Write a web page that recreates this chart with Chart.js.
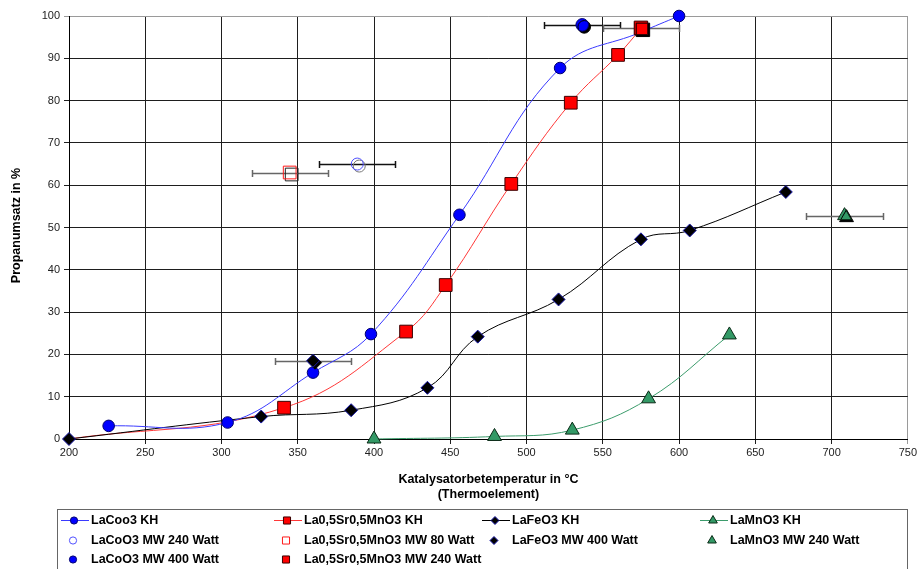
<!DOCTYPE html>
<html>
<head>
<meta charset="utf-8">
<script src="https://cdn.jsdelivr.net/npm/chart.js@4.4.1/dist/chart.umd.min.js"></script>
<style>
  html, body { margin: 0; padding: 0; background: #ffffff; }
  #wrap { width: 919px; height: 569px; position: relative; }
</style>
</head>
<body>
<div id="wrap"><canvas id="c" width="919" height="569"></canvas></div>
<script>
// Catalyst temperature (°C) and propane conversion (%) per sample

// Conventional heating (KH) series
const laCoKhTemp = [226, 304, 360, 398, 456, 522, 575, 600];
const laCoKhConv = [3.1, 3.9, 15.7, 24.8, 53.0, 87.7, 96.2, 100];

const laSrMnKhTemp = [200, 341, 421, 447, 490, 529, 560, 575];
const laSrMnKhConv = [0, 7.4, 25.4, 36.4, 60.3, 79.5, 90.8, 97.0];

const laFeKhTemp = [200, 326, 385, 435, 468, 521, 575, 607, 670];
const laFeKhConv = [0, 5.3, 6.8, 12.1, 24.2, 33.0, 47.2, 49.3, 58.4];

const laMnKhTemp = [400, 479, 530, 580, 633];
const laMnKhConv = [0, 0.6, 2.1, 9.5, 24.6];

// Microwave (MW) single measurements with temperature uncertainty (± °C)
const laCoMw240Temp = [389];   const laCoMw240Conv = [65.0];  const laCoMw240Err = [25];
const laCoMw400Temp = [536.5]; const laCoMw400Conv = [97.9];  const laCoMw400Err = [25];
const laSrMnMw80Temp = [344.7]; const laSrMnMw80Conv = [63.0]; const laSrMnMw80Err = [25];
const laSrMnMw240Temp = [575]; const laSrMnMw240Conv = [97.2]; const laSrMnMw240Err = [25];
const laFeMw400Temp = [360];   const laFeMw400Conv = [18.5];  const laFeMw400Err = [25];
const laMnMw240Temp = [708.5]; const laMnMw240Conv = [52.8];  const laMnMw240Err = [25];

// Axis ticks
const xTicks = [200, 250, 300, 350, 400, 450, 500, 550, 600, 650, 700, 750];
const yTicks = [0, 10, 20, 30, 40, 50, 60, 70, 80, 90, 100];

const xTitle = ['Katalysatorbetemperatur in °C', '(Thermoelement)'];
const yTitle = 'Propanumsatz in %';

function pts(t, u) { return t.map((x, i) => ({ x: x, y: u[i] })); }

const CLEAR = 'rgba(0,0,0,0)';

// Datasets listed in legend order (row by row, four columns)
const datasets = [
  { label: 'LaCoo3 KH', data: pts(laCoKhTemp, laCoKhConv), showLine: true, tension: 0.4,
    borderColor: '#3a3aff', borderWidth: 1, pointStyle: 'circle',
    pointRadius: laCoKhTemp.map((t, i) => i === 6 ? 0 : 5.8),
    pointBackgroundColor: '#0000ff', pointBorderColor: '#00006e', pointBorderWidth: 1,
    order: 2, legendRadius: 3.6 },
  { label: 'La0,5Sr0,5MnO3 KH', data: pts(laSrMnKhTemp, laSrMnKhConv), showLine: true, tension: 0.4,
    borderColor: '#ff3838', borderWidth: 1, pointStyle: 'rect',
    pointRadius: laSrMnKhTemp.map((t, i) => i === 0 ? 0 : 9),
    pointBackgroundColor: '#ff0000', pointBorderColor: '#3a0000', pointBorderWidth: 1,
    order: 4, legendRadius: 5 },
  { label: 'LaFeO3 KH', data: pts(laFeKhTemp, laFeKhConv), showLine: true, tension: 0.4,
    borderColor: '#000000', borderWidth: 1, pointStyle: 'rectRot', pointRadius: 6.5,
    pointBackgroundColor: '#000000', pointBorderColor: '#1a1aa8', pointBorderWidth: 1,
    order: 3, legendRadius: 4 },
  { label: 'LaMnO3 KH', data: pts(laMnKhTemp, laMnKhConv), showLine: true, tension: 0.4,
    borderColor: '#3c9c6c', borderWidth: 1, pointStyle: 'triangle', pointRadius: 8,
    pointBackgroundColor: '#339966', pointBorderColor: '#0b2a17', pointBorderWidth: 1,
    order: 5, legendRadius: 5 },

  { label: 'LaCoO3 MW 240 Watt', data: pts(laCoMw240Temp, laCoMw240Conv), showLine: false,
    pointStyle: 'circle', pointRadius: 6, pointBackgroundColor: CLEAR, pointBorderColor: '#5050ff',
    pointBorderWidth: 1, order: 1, legendRadius: 3.6,
    errX: laCoMw240Err, errColor: '#111111', shadowColor: '#777777' },
  { label: 'La0,5Sr0,5MnO3 MW 80 Watt', data: pts(laSrMnMw80Temp, laSrMnMw80Conv), showLine: false,
    pointStyle: 'rect', pointRadius: 9, pointBackgroundColor: CLEAR, pointBorderColor: '#ff1a1a',
    pointBorderWidth: 1, order: 1, legendRadius: 5,
    errX: laSrMnMw80Err, errColor: '#666666', shadowColor: '#222222' },
  { label: 'LaFeO3 MW 400 Watt', data: pts(laFeMw400Temp, laFeMw400Conv), showLine: false,
    pointStyle: 'rectRot', pointRadius: 6.5, pointBackgroundColor: '#000000', pointBorderColor: '#1a1aa8',
    pointBorderWidth: 1, order: 1, legendRadius: 4,
    errX: laFeMw400Err, errColor: '#666666', shadowColor: '#000000' },
  { label: 'LaMnO3 MW 240 Watt', data: pts(laMnMw240Temp, laMnMw240Conv), showLine: false,
    pointStyle: 'triangle', pointRadius: 8, pointBackgroundColor: '#339966', pointBorderColor: '#0b2a17',
    pointBorderWidth: 1, order: 1, legendRadius: 5,
    errX: laMnMw240Err, errColor: '#666666', shadowColor: '#000000' },

  { label: 'LaCoO3 MW 400 Watt', data: pts(laCoMw400Temp, laCoMw400Conv), showLine: false,
    pointStyle: 'circle', pointRadius: 6.3, pointBackgroundColor: '#0000ff', pointBorderColor: '#00006e',
    pointBorderWidth: 1, order: 1, legendRadius: 3.6,
    errX: laCoMw400Err, errColor: '#111111', shadowColor: '#000000' },
  { label: 'La0,5Sr0,5MnO3 MW 240 Watt', data: pts(laSrMnMw240Temp, laSrMnMw240Conv), showLine: false,
    pointStyle: 'rect', pointRadius: 9.5, pointBackgroundColor: '#ff0000', pointBorderColor: '#3a0000',
    pointBorderWidth: 1, order: 0, legendRadius: 5,
    errX: laSrMnMw240Err, errColor: '#666666', shadowColor: '#000000' }
];

// Horizontal temperature error bars, drawn beneath the markers
const errorBars = {
  id: 'errorBars',
  beforeDatasetsDraw(chart) {
    const ctx = chart.ctx, xs = chart.scales.x, ys = chart.scales.y;
    chart.data.datasets.forEach(ds => {
      if (!ds.errX) return;
      ds.data.forEach((p, i) => {
        const e = ds.errX[i];
        const x0 = Math.round(xs.getPixelForValue(p.x - e)) + 0.5;
        const x1 = Math.round(xs.getPixelForValue(p.x + e)) + 0.5;
        const y = Math.round(ys.getPixelForValue(p.y)) + 0.5;
        ctx.save();
        ctx.strokeStyle = ds.errColor;
        ctx.lineWidth = 1.5;
        ctx.beginPath();
        ctx.moveTo(x0, y); ctx.lineTo(x1, y);
        ctx.moveTo(x0, y - 3.5); ctx.lineTo(x0, y + 3.5);
        ctx.moveTo(x1, y - 3.5); ctx.lineTo(x1, y + 3.5);
        ctx.stroke();
        ctx.restore();
      });
    });
  }
};

// Offset drop shadow on the microwave markers
const markerShadow = {
  id: 'markerShadow',
  beforeDatasetDraw(chart, args) {
    const ds = chart.data.datasets[args.index];
    if (!ds.shadowColor) return;
    const ctx = chart.ctx;
    ctx.save();
    ctx.shadowColor = ds.shadowColor;
    ctx.shadowOffsetX = 2;
    ctx.shadowOffsetY = 2;
    ctx.shadowBlur = 0;
  },
  afterDatasetDraw(chart, args) {
    const ds = chart.data.datasets[args.index];
    if (ds.shadowColor) chart.ctx.restore();
  }
};

// Axis titles
const axisTitles = {
  id: 'axisTitles',
  afterDraw(chart) {
    const ctx = chart.ctx, a = chart.chartArea;
    ctx.save();
    ctx.fillStyle = '#000';
    ctx.font = 'bold 12.5px "Liberation Sans", Arial, sans-serif';
    ctx.textAlign = 'center';
    ctx.textBaseline = 'middle';
    const cx = (a.left + a.right) / 2;
    xTitle.forEach((t, i) => ctx.fillText(t, cx, 480 + i * 15));
    ctx.translate(17, (a.top + a.bottom) / 2 - 2);
    ctx.rotate(-Math.PI / 2);
    ctx.fillText(yTitle, 0, 0);
    ctx.restore();
  }
};

// Boxed legend in a four-column grid
const gridLegend = {
  id: 'gridLegend',
  afterDraw(chart) {
    const ctx = chart.ctx;
    const colX = [61, 274, 482, 700];
    const rowY = [520, 540, 559];
    ctx.save();
    ctx.strokeStyle = '#666666';
    ctx.lineWidth = 1;
    ctx.strokeRect(57.5, 509.5, 850, 80);
    ctx.font = 'bold 12.5px "Liberation Sans", Arial, sans-serif';
    ctx.textBaseline = 'middle';
    ctx.textAlign = 'left';
    chart.data.datasets.forEach((ds, i) => {
      const x = colX[i % 4], y = rowY[Math.floor(i / 4)];
      if (ds.showLine) {
        ctx.strokeStyle = ds.borderColor;
        ctx.lineWidth = 1;
        ctx.beginPath();
        ctx.moveTo(x, y + 0.5); ctx.lineTo(x + 28, y + 0.5);
        ctx.stroke();
      }
      const mx = ds.showLine ? x + 13 : x + 12;
      ctx.fillStyle = ds.pointBackgroundColor;
      ctx.strokeStyle = ds.pointBorderColor;
      ctx.lineWidth = 1;
      Chart.helpers.drawPoint(ctx, { pointStyle: ds.pointStyle, radius: ds.legendRadius, borderWidth: 1, rotation: 0 }, mx, y + 0.5);
      ctx.fillStyle = '#000';
      ctx.fillText(ds.label, x + 30, y + 0.5);
    });
    ctx.restore();
  }
};

new Chart(document.getElementById('c'), {
  type: 'scatter',
  data: { datasets: datasets },
  options: {
    responsive: false,
    animation: false,
    devicePixelRatio: 1,
    layout: { padding: { top: 16, right: 10, left: 0, bottom: 0 } },
    plugins: { legend: { display: false }, tooltip: { enabled: false } },
    elements: { line: { clip: false } },
    datasets: { scatter: { clip: false } },
    scales: {
      x: {
        type: 'linear', min: xTicks[0], max: xTicks[xTicks.length - 1],
        afterBuildTicks: s => { s.ticks = xTicks.map(v => ({ value: v })); },
        afterFit: s => { s.height = 130; },
        ticks: { color: '#222', font: { family: '"Liberation Sans", Arial, sans-serif', size: 11 }, padding: 2, maxRotation: 0 },
        grid: { color: c => (c.tick && c.tick.value === 750 ? '#9a9a9a' : '#1e1e1e'), lineWidth: 1, tickLength: 5 },
        border: { color: '#000', width: 1 }
      },
      y: {
        type: 'linear', min: yTicks[0], max: yTicks[yTicks.length - 1],
        afterBuildTicks: s => { s.ticks = yTicks.map(v => ({ value: v })); },
        afterFit: s => { s.width = 69; },
        ticks: { color: '#222', font: { family: '"Liberation Sans", Arial, sans-serif', size: 11 }, padding: 4 },
        grid: { color: c => (c.tick && c.tick.value === 100 ? '#9a9a9a' : '#1e1e1e'), lineWidth: 1, tickLength: 5 },
        border: { color: '#000', width: 1 }
      }
    }
  },
  plugins: [errorBars, markerShadow, axisTitles, gridLegend]
});
</script>
</body>
</html>
